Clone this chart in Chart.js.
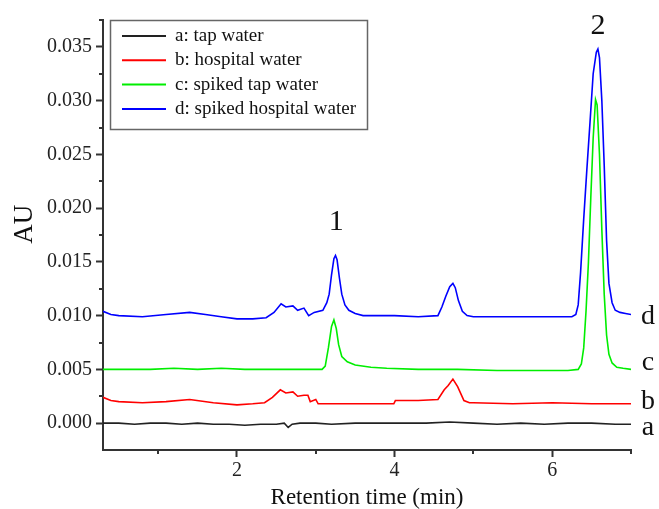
<!DOCTYPE html>
<html>
<head>
<meta charset="utf-8">
<script src="https://cdn.jsdelivr.net/npm/chart.js@4/dist/chart.umd.min.js"></script>
<style>
  body { margin: 0; background: #fff; }
  #chromatogram { display: block; }
</style>
</head>
<body>
<canvas id="chromatogram" width="659" height="509"></canvas>
<script>
// retention time (min) / absorbance (AU)
var tapX = [0.3,0.5,0.7,0.9,1.1,1.3,1.5,1.7,1.9,2.1,2.3,2.5,2.6,2.65,2.7,2.8,3.0,3.2,3.5,3.8,4.1,4.4,4.7,5.0,5.3,5.6,5.9,6.2,6.5,6.8,7.0]
var tapY = [0.0000,0.0000,-0.0001,0.0000,0.0000,-0.0001,0.0000,-0.0001,-0.0001,-0.0002,-0.0001,-0.0001,0.0000,-0.0004,-0.0001,0.0000,0.0000,-0.0001,0.0000,0.0000,0.0000,0.0000,0.0001,0.0000,-0.0001,0.0000,-0.0001,0.0000,0.0000,-0.0001,-0.0001]

var hospX = [0.3,0.4,0.5,0.8,1.1,1.4,1.7,2.0,2.2,2.35,2.45,2.55,2.62,2.71,2.77,2.85,2.9,2.93,3.0,3.03,3.3,3.6,3.99,4.01,4.3,4.55,4.63,4.68,4.74,4.8,4.88,4.95,5.0,5.5,6.0,6.5,7.0]
var hospY = [0.0024,0.0021,0.0020,0.0019,0.0020,0.0022,0.0019,0.0017,0.0018,0.0019,0.0024,0.0031,0.0028,0.0029,0.0025,0.0026,0.0026,0.0020,0.0022,0.0018,0.0018,0.0018,0.0018,0.0021,0.0021,0.0022,0.0031,0.0035,0.0041,0.0034,0.0021,0.0019,0.0019,0.0018,0.0019,0.0018,0.0018]

var spikedTapX = [0.3,0.6,0.9,1.2,1.5,1.8,2.1,2.4,2.7,3.0,3.08,3.12,3.16,3.2,3.23,3.26,3.29,3.33,3.4,3.5,3.7,3.9,4.3,4.8,5.3,5.8,6.2,6.33,6.37,6.40,6.43,6.46,6.49,6.52,6.55,6.57,6.60,6.63,6.66,6.69,6.72,6.76,6.82,6.9,7.0]
var spikedTapY = [0.0050,0.0050,0.0050,0.0051,0.0050,0.0051,0.0050,0.0050,0.0050,0.0050,0.0050,0.0053,0.0070,0.0090,0.0096,0.0088,0.0073,0.0062,0.0057,0.0054,0.0052,0.0051,0.0050,0.0050,0.0049,0.0049,0.0049,0.0050,0.0055,0.0070,0.0105,0.0150,0.0210,0.0265,0.0301,0.0296,0.0250,0.0180,0.0120,0.0082,0.0064,0.0056,0.0052,0.0051,0.0050]

var spikedHospX = [0.3,0.4,0.5,0.8,1.1,1.4,1.6,1.8,2.0,2.2,2.37,2.47,2.56,2.62,2.71,2.77,2.85,2.91,2.98,3.09,3.14,3.17,3.20,3.23,3.25,3.27,3.30,3.33,3.37,3.42,3.5,3.6,4.0,4.3,4.55,4.60,4.65,4.70,4.74,4.77,4.81,4.86,4.92,5.0,5.5,6.0,6.25,6.30,6.33,6.36,6.40,6.44,6.48,6.52,6.56,6.58,6.60,6.63,6.66,6.69,6.72,6.76,6.80,6.86,6.93,7.0]
var spikedHospY = [0.0104,0.0101,0.0100,0.0099,0.0101,0.0103,0.0101,0.0099,0.0097,0.0097,0.0098,0.0103,0.0111,0.0108,0.0109,0.0105,0.0107,0.0100,0.0103,0.0105,0.0112,0.0120,0.0138,0.0153,0.0156,0.0152,0.0135,0.0120,0.0110,0.0105,0.0102,0.0100,0.0100,0.0099,0.0100,0.0108,0.0118,0.0127,0.0130,0.0126,0.0114,0.0104,0.0100,0.0099,0.0099,0.0099,0.0099,0.0101,0.0110,0.0140,0.0190,0.0236,0.0280,0.0325,0.0345,0.0348,0.0340,0.0300,0.0240,0.0170,0.0130,0.0112,0.0105,0.0103,0.0102,0.0101]

var names = ['a: tap water', 'b: hospital water', 'c: spiked tap water', 'd: spiked hospital water']
var cores = ['#222222', '#ff0000', '#00ee00', '#0000ff']
var xTicks = [2, 4, 6]
var xMinor = [1, 3, 5, 7]
var yTicks = [0, 0.005, 0.010, 0.015, 0.020, 0.025, 0.030, 0.035]
var yMinor = [0.0025, 0.0075, 0.0125, 0.0175, 0.0225, 0.0275, 0.0325, 0.0375]

// peak numbers and trace letters: [text, x, y]
var peakLabels = [['1', 3.26, 0.0187], ['2', 6.58, 0.0369]]
var traceLetters = [['a', -0.0004], ['b', 0.0020], ['c', 0.0056], ['d', 0.0099]]

var serif = "'Liberation Serif', 'Times New Roman', serif"

function pairs(xs, ys) {
    return xs.map(function(x, i) { return {x: x, y: ys[i]} })
}

var series = [pairs(tapX, tapY), pairs(hospX, hospY), pairs(spikedTapX, spikedTapY), pairs(spikedHospX, spikedHospY)]

var extras = {
    id: 'extras',
    afterDraw: function(chart) {
        var c = chart.ctx
        var xs = chart.scales.x
        var ys = chart.scales.y
        var area = chart.chartArea
        c.save()

        // minor ticks
        c.strokeStyle = '#333'
        c.lineWidth = 2
        c.beginPath()
        xMinor.forEach(function(v) {
            var px = Math.round(xs.getPixelForValue(v))
            c.moveTo(px, area.bottom)
            c.lineTo(px, area.bottom + 4)
        })
        yMinor.forEach(function(v) {
            var py = Math.round(ys.getPixelForValue(v))
            c.moveTo(area.left, py)
            c.lineTo(area.left - 4, py)
        })
        c.stroke()

        // y axis title, a bit above the middle as in the figure
        c.fillStyle = '#111'
        c.font = '27px ' + serif
        c.textAlign = 'center'
        c.textBaseline = 'middle'
        c.translate(25, ys.getPixelForValue(0.0185))
        c.rotate(-Math.PI / 2)
        c.fillText('AU', 0, 0)
        c.setTransform(1, 0, 0, 1, 0, 0)

        // legend box
        var lx = area.left + 7, ly = area.top, lw = 257, lh = 109
        c.fillStyle = '#fff'
        c.fillRect(lx, ly, lw, lh)
        c.strokeStyle = '#666'
        c.lineWidth = 1.5
        c.strokeRect(lx + 0.5, ly + 0.5, lw, lh)
        c.font = '19px ' + serif
        c.textAlign = 'left'
        names.forEach(function(name, i) {
            var yy = ly + 16 + i * 24.3
            c.strokeStyle = cores[i]
            c.lineWidth = 2
            c.beginPath()
            c.moveTo(lx + 12, yy)
            c.lineTo(lx + 56, yy)
            c.stroke()
            c.fillStyle = '#111'
            c.fillText(name, lx + 65, yy)
        })

        // peak numbers
        c.font = '30px ' + serif
        c.textAlign = 'center'
        peakLabels.forEach(function(p) {
            c.fillText(p[0], xs.getPixelForValue(p[1]), ys.getPixelForValue(p[2]))
        })

        // trace letters right of the axis
        c.font = '28px ' + serif
        traceLetters.forEach(function(t) {
            c.fillText(t[0], area.right + 17, ys.getPixelForValue(t[1]))
        })
        c.restore()
    }
}

var ctx = document.getElementById('chromatogram')
var chart = new Chart(ctx, {
    type: 'line',
    data: {
        datasets: series.map(function(pts, i) {
            return {
                label: names[i],
                data: pts,
                borderColor: cores[i],
                backgroundColor: cores[i],
                borderWidth: 1.6,
                pointRadius: 0,
                tension: 0,
                fill: false
            }
        })
    },
    options: {
        responsive: false,
        animation: false,
        devicePixelRatio: 1,
        layout: { padding: { top: 20, right: 28, left: 0, bottom: 0 } },
        plugins: {
            legend: { display: false },
            tooltip: { enabled: false }
        },
        scales: {
            x: {
                type: 'linear',
                min: 0.3,
                max: 7,
                afterBuildTicks: function(scale) {
                    scale.ticks = xTicks.map(function(v) { return {value: v} })
                },
                afterFit: function(scale) { scale.height = 59 },
                ticks: {
                    color: '#222',
                    font: { family: serif, size: 20 },
                    padding: 2,
                    maxRotation: 0,
                    callback: function(value) { return String(value) }
                },
                grid: { drawOnChartArea: false, drawTicks: true, tickLength: 7, tickWidth: 2, tickColor: '#333' },
                border: { color: '#333', width: 2 },
                title: {
                    display: true,
                    text: 'Retention time (min)',
                    color: '#111',
                    font: { family: serif, size: 23 },
                    padding: { top: 0, bottom: -3 }
                }
            },
            y: {
                min: -0.0025,
                max: 0.0375,
                afterBuildTicks: function(scale) {
                    scale.ticks = yTicks.map(function(v) { return {value: v} })
                },
                afterFit: function(scale) { scale.width = 103 },
                ticks: {
                    color: '#222',
                    font: { family: serif, size: 20 },
                    padding: 4,
                    callback: function(value) { return value.toFixed(3) }
                },
                grid: { drawOnChartArea: false, drawTicks: true, tickLength: 7, tickWidth: 2, tickColor: '#333' },
                border: { color: '#333', width: 2 }
            }
        }
    },
    plugins: [extras]
})
</script>
</body>
</html>
